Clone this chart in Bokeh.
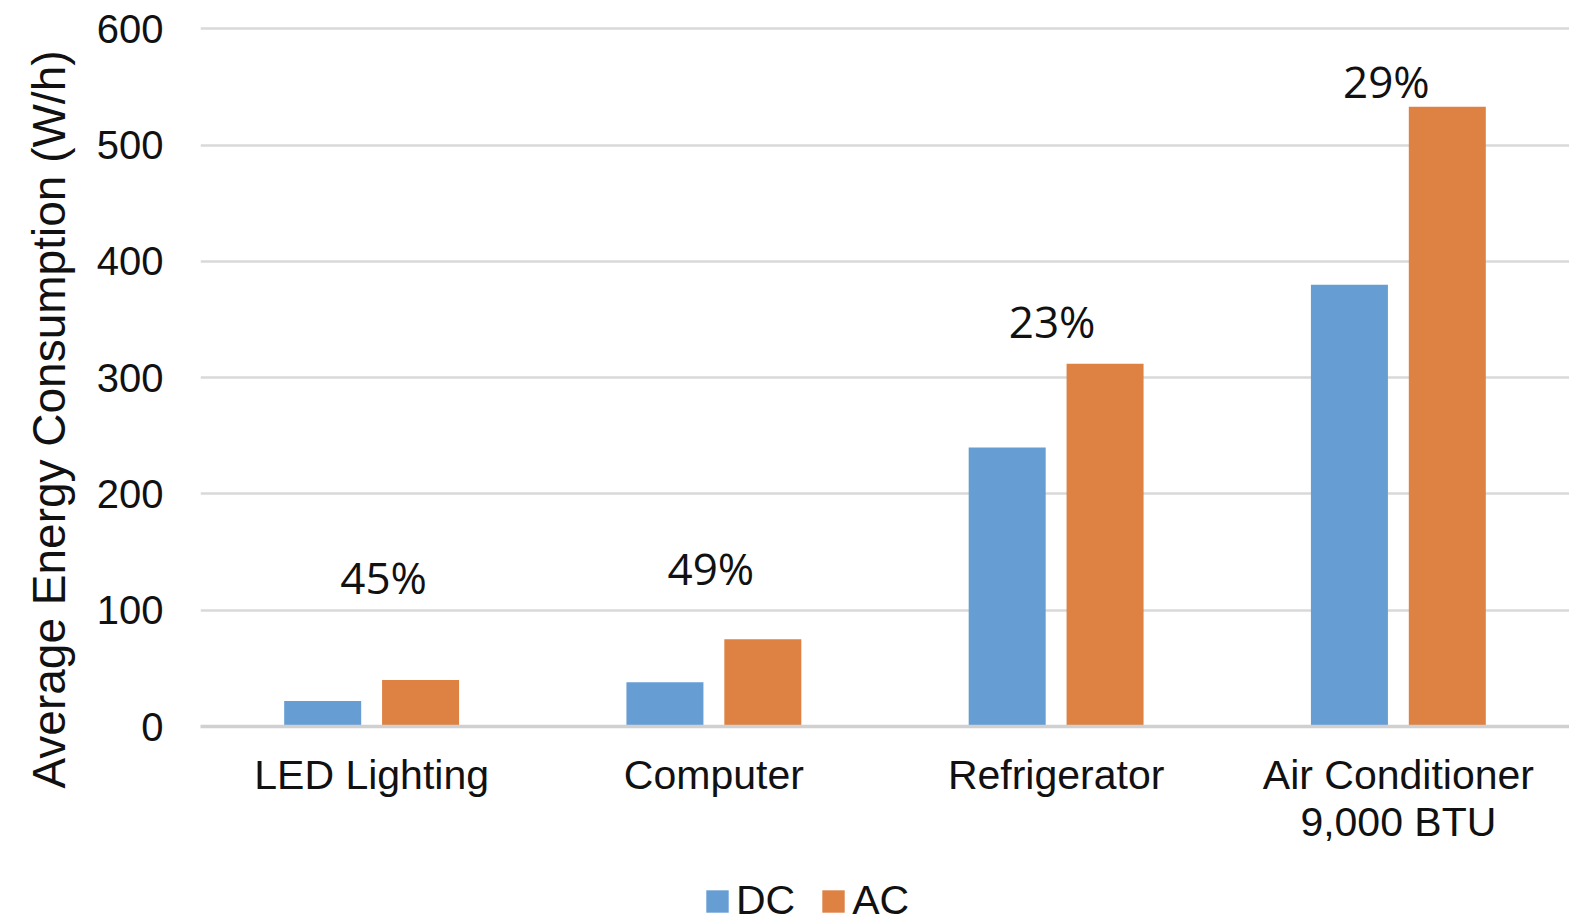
from bokeh.plotting import figure
from bokeh.layouts import column
from bokeh.models import FactorRange, Range1d, ColumnDataSource, Legend, LegendItem, FixedTicker, Title
from bokeh.transform import dodge
from bokeh.core.properties import value
from bokeh.embed import file_html
from bokeh.resources import INLINE

categories = ["LED Lighting", "Computer", "Refrigerator", "Air Conditioner\n9,000 BTU"]
dc_values = [22, 38, 240, 380]
ac_values = [40, 75, 312, 533]
pct_labels = ["45%", "49%", "23%", "29%"]
label_y = [129, 136, 349, 555]
label_dx = [12, -3, -4, -12]
y_ticks = [0, 100, 200, 300, 400, 500, 600]
y_title = "Average Energy Consumption (W/h)"
series = ["DC", "AC"]

BLUE = "#669ED4"
ORANGE = "#DE8244"
TXT = "#111111"
AXFONT = "Liberation Sans"

src = ColumnDataSource(dict(cat=categories, dc=dc_values, ac=ac_values,
                            lab=pct_labels, ly=label_y, dx=label_dx))

p = figure(width=1569, height=852, output_backend="svg", toolbar_location=None,
           x_range=FactorRange(factors=categories, range_padding=0),
           y_range=Range1d(0, 602),
           min_border_left=200, min_border_right=0, min_border_top=26, min_border_bottom=126)
p.outline_line_color = None
p.background_fill_color = "white"

r_dc = p.vbar(x=dodge("cat", -0.143, range=p.x_range), top="dc", width=0.225, source=src,
              fill_color=BLUE, line_color=None)
r_ac = p.vbar(x=dodge("cat", 0.143, range=p.x_range), top="ac", width=0.225, source=src,
              fill_color=ORANGE, line_color=None)

p.text(x="cat", y="ly", text="lab", x_offset="dx", source=src, text_align="center",
       text_baseline="middle", text_font=value("Open Sans"), text_font_size="44px",
       text_color=TXT)

# axes
p.yaxis.ticker = FixedTicker(ticks=y_ticks)
p.yaxis.axis_line_color = None
p.yaxis.major_tick_line_color = None
p.yaxis.major_tick_out = 0
p.yaxis.minor_tick_line_color = None
p.yaxis.minor_tick_out = 0
p.yaxis.major_label_text_font = AXFONT
p.yaxis.major_label_text_font_size = "40px"
p.yaxis.major_label_text_color = TXT
p.yaxis.major_label_standoff = 37

title = Title(text=y_title, align="left", offset=-62, standoff=37,
              text_font=AXFONT, text_font_size="46px", text_font_style="normal",
              text_color=TXT)
p.add_layout(title, "left")

p.xaxis.axis_line_color = "#d0d0d0"
p.xaxis.axis_line_width = 3.5
p.xaxis.major_tick_line_color = None
p.xaxis.major_tick_out = 0
p.xaxis.minor_tick_line_color = None
p.xaxis.major_label_text_font = AXFONT
p.xaxis.major_label_text_font_size = "41px"
p.xaxis.major_label_text_color = TXT
p.xaxis.major_label_text_line_height = 1.03
p.xaxis.major_label_standoff = 25

p.xgrid.grid_line_color = None
p.ygrid.grid_line_color = "#d9d9d9"
p.ygrid.grid_line_width = 2.5

# legend strip
lg = figure(width=1569, height=72, output_backend="svg", toolbar_location=None,
            x_range=Range1d(0, 1), y_range=Range1d(0, 1),
            x_axis_type=None, y_axis_type=None, min_border=0)
lg.outline_line_color = None
lg.xgrid.grid_line_color = None
lg.ygrid.grid_line_color = None
lsrc = ColumnDataSource(dict(x=[-10], top=[-10]))
l_dc = lg.vbar(x="x", top="top", width=0.1, source=lsrc, fill_color=BLUE, line_color=None)
l_ac = lg.vbar(x="x", top="top", width=0.1, source=lsrc, fill_color=ORANGE, line_color=None)
legend = Legend(items=[LegendItem(label=series[0], renderers=[l_dc]),
                       LegendItem(label=series[1], renderers=[l_ac])],
                orientation="horizontal", location=(503, 0),
                glyph_width=28, glyph_height=28, label_standoff=5, spacing=24,
                padding=0, margin=0, border_line_color=None, background_fill_alpha=0,
                label_text_font=AXFONT, label_text_font_size="41px", label_text_color=TXT,
                label_text_line_height=0.9)
lg.add_layout(legend, "center")

layout = column(p, lg, spacing=0)
open("out.html", "w").write(file_html(layout, INLINE))
